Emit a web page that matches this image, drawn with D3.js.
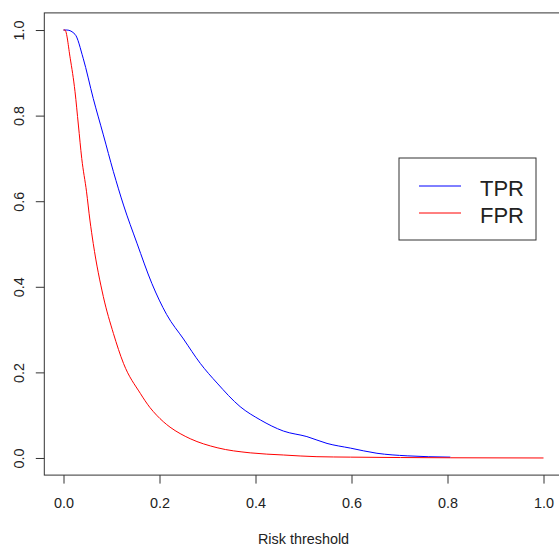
<!DOCTYPE html>
<html>
<head>
<meta charset="utf-8">
<script src="https://cdn.jsdelivr.net/npm/d3@7"></script>
<style>
  body { margin: 0; background: #fff; }
  text { font-family: "Liberation Sans", Arial, sans-serif; fill: #222; }
</style>
</head>
<body>
<div id="chart"></div>
<script>
// Threshold vs TPR / FPR
var tprX = [0, 0.007, 0.024, 0.041, 0.062, 0.083, 0.104, 0.125, 0.153, 0.184, 0.215, 0.250,
            0.285, 0.320, 0.368, 0.410, 0.458, 0.507, 0.549, 0.598, 0.653, 0.716, 0.806];
var tprY = [1.0, 1.0, 0.990, 0.934, 0.840, 0.755, 0.669, 0.591, 0.502, 0.408, 0.335, 0.278,
            0.221, 0.175, 0.120, 0.089, 0.063, 0.050, 0.034, 0.023, 0.011, 0.005, 0.002];

var fprX = [0, 0.003, 0.014, 0.024, 0.031, 0.038, 0.048, 0.055, 0.062, 0.083, 0.104,
            0.125, 0.160, 0.180, 0.194, 0.222, 0.243, 0.264, 0.320, 0.389, 0.458, 0.528,
            0.598, 0.806, 1.0];
var fprY = [1.0, 1.0, 0.934, 0.856, 0.778, 0.700, 0.622, 0.556, 0.501, 0.377, 0.291,
            0.221, 0.151, 0.118, 0.100, 0.072, 0.057, 0.045, 0.024, 0.012, 0.007, 0.003,
            0.002, 0.0005, 0];

var tickValues = [0, 0.2, 0.4, 0.6, 0.8, 1.0];
var legendLabels = ["TPR", "FPR"];
var seriesColors = ["#0000ff", "#ff0000"];
var xTitle = "Risk threshold";

var width = 559, height = 548;

//// SCALES /////////////////////////////////////////////////////////////////
// R pads the range by 4% on each side
var x = d3.scaleLinear().domain([-0.04, 1.04]).range([44.3, 562.7]);
var y = d3.scaleLinear().domain([-0.04, 1.04]).range([475.1, 12.9]);

var svg = d3.select("#chart").append("svg")
            .attr("width", width)
            .attr("height", height);

// plot box
svg.append("rect")
    .attr("x", x(-0.04))
    .attr("y", y(1.04))
    .attr("width", x(1.04) - x(-0.04))
    .attr("height", y(-0.04) - y(1.04))
    .attr("fill", "none")
    .attr("stroke", "#333")
    .attr("stroke-width", 1);

//// AXES ///////////////////////////////////////////////////////////////////
var xAxis = svg.append("g")
    .attr("transform", "translate(0," + y(-0.04) + ")")
    .call(d3.axisBottom(x).tickValues(tickValues).tickSize(8.5)
            .tickFormat(d3.format(".1f")));
xAxis.select(".domain").remove();
xAxis.selectAll("line").attr("stroke", "#333");
xAxis.selectAll("text")
    .style("font-size", "14.4px")
    .attr("dy", null)
    .attr("y", 33);

var yAxis = svg.append("g")
    .attr("transform", "translate(" + x(-0.04) + ",0)")
    .call(d3.axisLeft(y).tickValues(tickValues).tickSize(8.5)
            .tickFormat(d3.format(".1f")));
yAxis.select(".domain").remove();
yAxis.selectAll("line").attr("stroke", "#333");
yAxis.selectAll("text")
    .style("font-size", "14.4px")
    .style("text-anchor", "middle")
    .attr("x", null)
    .attr("dy", null)
    .attr("transform", "translate(-20,0) rotate(-90)");

svg.append("text")
    .attr("x", (x(0) + x(1)) / 2)
    .attr("y", 544)
    .style("text-anchor", "middle")
    .style("font-size", "14.4px")
    .text(xTitle);

//// LINES //////////////////////////////////////////////////////////////////
var line = d3.line()
    .x(function(d) { return x(d[0]); })
    .y(function(d) { return y(d[1]); })
    .curve(d3.curveMonotoneX);

var series = [d3.zip(tprX, tprY), d3.zip(fprX, fprY)];

series.forEach(function(s, i) {
    svg.append("path")
        .datum(s)
        .attr("fill", "none")
        .attr("stroke", seriesColors[i])
        .attr("stroke-width", 1)
        .attr("d", line);
});

//// LEGEND /////////////////////////////////////////////////////////////////
var legend = svg.append("g").attr("transform", "translate(399,158)");

legend.append("rect")
    .attr("width", 137)
    .attr("height", 82)
    .attr("fill", "#fff")
    .attr("stroke", "#333");

legendLabels.forEach(function(label, i) {
    var ly = 28 + i * 27;
    legend.append("line")
        .attr("x1", 20).attr("x2", 62)
        .attr("y1", ly).attr("y2", ly)
        .attr("stroke", seriesColors[i]);
    legend.append("text")
        .attr("x", 81)
        .attr("y", ly + 10)
        .style("font-size", "22px")
        .text(label);
});
</script>
</body>
</html>
